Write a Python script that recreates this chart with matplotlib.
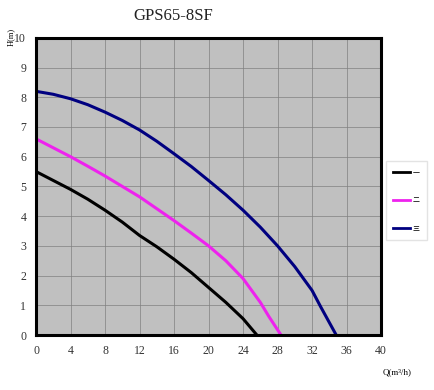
import matplotlib.pyplot as plt
from matplotlib.lines import Line2D

plt.rcParams['font.family'] = ['Liberation Serif', 'Noto Sans CJK SC', 'DejaVu Sans']

# curve one (black)
q1 = [0, 2, 4, 6, 8, 10, 12, 14, 16, 18, 20, 22, 24, 25.6]
h1 = [5.5, 5.2, 4.9, 4.57, 4.2, 3.8, 3.35, 2.97, 2.55, 2.1, 1.6, 1.1, 0.55, 0]
# curve two (magenta)
q2 = [0, 2, 4, 6, 8, 10, 12, 14, 16, 18, 20, 22, 24, 26, 27, 28.4]
h2 = [6.6, 6.3, 6.0, 5.68, 5.35, 5.0, 4.65, 4.25, 3.85, 3.43, 3.0, 2.5, 1.9, 1.1, 0.62, 0]
# curve three (navy)
q3 = [0, 2, 4, 6, 8, 10, 12, 14, 16, 18, 20, 22, 24, 26, 28, 30, 32, 33, 34.8]
h3 = [8.2, 8.1, 7.95, 7.75, 7.5, 7.22, 6.9, 6.52, 6.1, 5.67, 5.2, 4.72, 4.2, 3.63, 3.0, 2.3, 1.5, 0.95, 0]

names = ['一', '二', '三']
colors = ['black', '#ee22ee', '#000080']
xticks = list(range(0, 41, 4))
yticks = list(range(0, 11))

fig = plt.figure(figsize=(4.34, 3.9), dpi=100)
ax = fig.add_axes([0.083, 0.141, 0.795, 0.762])
ax.set_facecolor('#c0c0c0')

for q, h, c in zip([q1, q2, q3], [h1, h2, h3], colors):
    ax.plot(q, h, color=c, lw=2.2, solid_capstyle='butt', solid_joinstyle='round')

ax.set_xlim(0, 40)
ax.set_ylim(0, 10)
ax.set_xticks(xticks)
ax.set_yticks(yticks)
ax.grid(True, color='#808080', lw=0.5)
ax.tick_params(length=0, labelsize=8.5, pad=7, labelcolor='#333333')
for s in ax.spines.values():
    s.set_linewidth(2.2)

fig.text(0.40, 0.96, 'GPS65-8SF', fontsize=12, ha='center', va='center', color='#222222')
fig.text(0.025, 0.905, 'H(m)', fontsize=6, rotation=90, ha='center', va='center')
fig.text(0.915, 0.045, 'Q(m³/h)', fontsize=6.5, ha='center', va='center')

handles = [Line2D([0], [0], color=c, lw=2) for c in colors]
fig.legend(handles, names, loc='upper left', bbox_to_anchor=(0.882, 0.595),
           handlelength=2.4, labelspacing=2.9, borderpad=1.0,
           handletextpad=0.4, frameon=True, fancybox=False, edgecolor='#dddddd',
           prop={'family': ['Noto Sans CJK SC'], 'size': 5})

fig.savefig('out.png', dpi=100, facecolor='white')
